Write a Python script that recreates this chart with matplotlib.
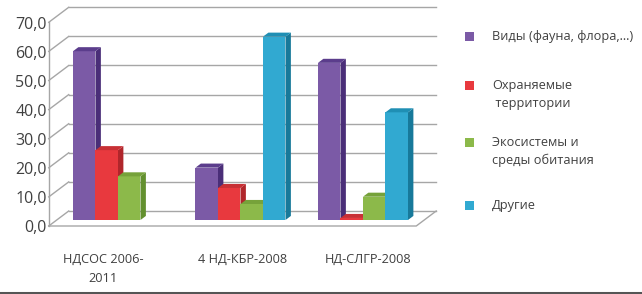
import matplotlib
matplotlib.use("Agg")
import matplotlib.pyplot as plt
from matplotlib.patches import Polygon
import numpy as np

categories = ["НДСОС 2006-\n2011", "4 НД-КБР-2008", "НД-СЛГР-2008"]
series_names = ["Виды (фауна, флора,...)", "Охраняемые\n территории",
                "Экосистемы и\nсреды обитания", "Другие"]
vidy = [58.0, 18.0, 54.0]
ohr = [24.0, 11.0, 0.7]
eco = [15.0, 5.5, 8.0]
drugie = [np.nan, 63.0, 37.0]
yticks = [0, 10, 20, 30, 40, 50, 60, 70]

values = [vidy, ohr, eco, drugie]
front_cols = ["#7b5aa6", "#e8393e", "#8cb94a", "#31a9d1"]
side_cols = ["#4a2e78", "#b0262b", "#63902f", "#17799a"]
top_cols = ["#5b3d8c", "#c83035", "#76a23a", "#1f8fb4"]

plt.rcParams['font.family'] = ['Open Sans', 'DejaVu Sans']

fig = plt.figure(figsize=(6.42, 2.94), dpi=100)
ax = fig.add_axes([48.75 / 642, (294 - 226) / 294, 367.5 / 642, 203.7 / 294])
ax.set_xlim(-0.5, 2.5)
ax.set_ylim(0, 70)
ax.axis("off")

DX = 0.163   # full depth offset, category units
DY = 5.155   # full depth offset, value units
grid_c = "#a6a6a6"

# back wall gridlines and left wall
for v in yticks:
    ax.plot([-0.5 + DX, 2.5 + DX], [v + DY, v + DY], color=grid_c, lw=1.0, clip_on=False, zorder=1)
    ax.plot([-0.5, -0.5 + DX], [v, v + DY], color=grid_c, lw=1.0, clip_on=False, zorder=1)
ax.plot([-0.5, -0.5], [0, 70], color=grid_c, lw=1.0, clip_on=False, zorder=1)
# floor
ax.plot([-0.5, 2.5, 2.5 + DX], [0, 0, DY], color=grid_c, lw=1.0, clip_on=False, zorder=1)

bw = 0.1837
d0, d1 = 0.40, 0.67
for k, (vals, fc, sc, tc) in enumerate(zip(values, front_cols, side_cols, top_cols)):
    x = np.arange(len(categories)) - 2 * bw + k * bw + d0 * DX
    h = np.array(vals, dtype=float)
    ok = ~np.isnan(h)
    ax.bar(x[ok], h[ok], width=bw, bottom=d0 * DY, align="edge", color=fc, zorder=3 + k, lw=0)
    ddx = (d1 - d0) * DX
    ddy = (d1 - d0) * DY
    for xi, hi in zip(x[ok], h[ok]):
        y0 = d0 * DY
        top = [(xi, y0 + hi), (xi + bw, y0 + hi), (xi + bw + ddx, y0 + hi + ddy), (xi + ddx, y0 + hi + ddy)]
        side = [(xi + bw, y0), (xi + bw + ddx, y0 + ddy), (xi + bw + ddx, y0 + hi + ddy), (xi + bw, y0 + hi)]
        ax.add_patch(Polygon(side, closed=True, facecolor=sc, lw=0, zorder=2.9 + k, clip_on=False))
        ax.add_patch(Polygon(top, closed=True, facecolor=tc, lw=0, zorder=3 + k, clip_on=False))

# y tick labels
for v in yticks:
    ax.text(-0.5 - 0.015, v - 0.8, f"{v:.1f}".replace(".", ","), ha="right", va="center",
            fontsize=11.5, color="#404040", clip_on=False)

# category labels
label_x = [-0.057, 0.08, 0.11]
for i, (lab, off) in enumerate(zip(categories, label_x)):
    ax.text(i + off, -9.2, lab, ha="center", va="top", fontsize=9.2, color="#404040",
            linespacing=1.65, clip_on=False)

# legend
leg_y = [258, 209, 152, 89]
for name, fc, ly in zip(series_names, front_cols, leg_y):
    fig.patches.append(plt.Rectangle((465 / 642, (ly - 5) / 294), 9 / 642, 9 / 294,
                                     transform=fig.transFigure, facecolor=fc, lw=0))
    fig.text(492 / 642, (ly + 6) / 294, name, ha="left", va="top", fontsize=9.2,
             color="#404040", linespacing=1.45)

# bottom frame line
fig.add_artist(plt.Line2D([0, 1], [1.5 / 294, 1.5 / 294], transform=fig.transFigure,
                          color="#555555", lw=2.2))

fig.savefig("out.png", dpi=100)
